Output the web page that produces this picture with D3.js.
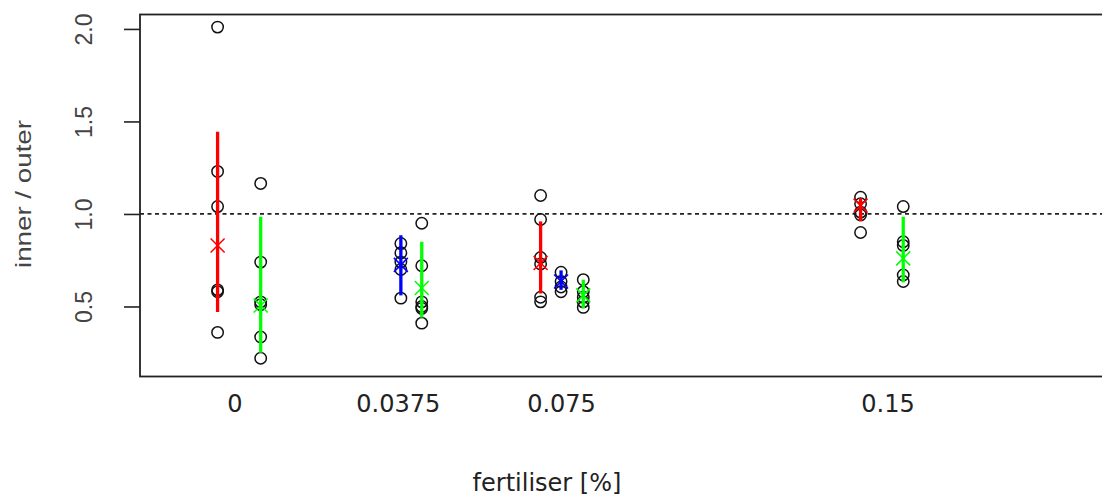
<!DOCTYPE html>
<html>
<head>
<meta charset="utf-8">
<script src="https://cdn.jsdelivr.net/npm/d3@7"></script>
<style>
  html, body { margin: 0; padding: 0; background: #fff; }
  svg { display: block; }
</style>
</head>
<body>
<div id="chart"></div>
<script>
// fertiliser levels and their tick labels
const fertLevels = [0, 0.0375, 0.075, 0.15];
const fertLabels = ["0", "0.0375", "0.075", "0.15"];
const yTicks = [0.5, 1.0, 1.5, 2.0];

// red series (x in fertiliser units, slightly offset per level)
const redX = [-0.004, 0.0702, 0.1437];
const redPoints = [
  [2.01, 1.23, 1.04, 0.59, 0.58, 0.36],
  [1.10, 0.97, 0.765, 0.73, 0.55, 0.525],
  [1.09, 1.055, 1.01, 0.995, 0.90]
];
const redMid = [0.83, 0.735, 1.045];
const redLo = [0.47, 0.57, 0.96];
const redHi = [1.445, 0.96, 1.085];

// blue series
const blueX = [0.0381, 0.0749];
const bluePoints = [
  [0.84, 0.79, 0.74, 0.70, 0.545],
  [0.685, 0.635, 0.605, 0.58]
];
const blueMid = [0.725, 0.635];
const blueLo = [0.56, 0.59];
const blueHi = [0.885, 0.695];

// green series
const greenX = [0.0059, 0.0429, 0.0800, 0.1535];
const greenPoints = [
  [1.165, 0.74, 0.525, 0.51, 0.335, 0.22],
  [0.95, 0.72, 0.525, 0.50, 0.49, 0.41],
  [0.645, 0.58, 0.55, 0.525, 0.495],
  [1.04, 0.85, 0.83, 0.67, 0.635]
];
const greenMid = [0.505, 0.60, 0.56, 0.76];
const greenLo = [0.25, 0.44, 0.49, 0.63];
const greenHi = [0.985, 0.85, 0.645, 0.985];

const width = 1102;
const height = 499;

// build one flat list of groups for drawing
function build(color, xs, pts, mid, lo, hi) {
  return xs.map((x, i) => ({ color, x, pts: pts[i], mid: mid[i], lo: lo[i], hi: hi[i] }));
}
const series = [].concat(
  build("#ff0000", redX, redPoints, redMid, redLo, redHi),
  build("#0000ff", blueX, bluePoints, blueMid, blueLo, blueHi),
  build("#00ff00", greenX, greenPoints, greenMid, greenLo, greenHi)
);

const svg = d3.select("#chart").append("svg")
  .attr("width", width)
  .attr("height", height);

const plot = { left: 140, top: 14.5, right: 1110, bottom: 376.5 };

const x = d3.scaleLinear().domain([0, 0.15]).range([235, 888]);
const y = d3.scaleLinear().domain([0.1216, 2.078]).range([plot.bottom, plot.top]);

// reference line at 1
svg.append("line")
  .attr("x1", plot.left).attr("x2", plot.right)
  .attr("y1", y(1)).attr("y2", y(1))
  .attr("stroke", "#222")
  .attr("stroke-width", 1.7)
  .attr("stroke-dasharray", "4 3.5");

// y axis
const yAxis = d3.axisLeft(y).tickValues(yTicks).tickSize(16).tickFormat(d3.format(".1f"));
const ya = svg.append("g")
  .attr("transform", `translate(${plot.left},0)`)
  .call(yAxis);
ya.select(".domain").remove();
ya.selectAll(".tick line").attr("stroke", "#222").attr("stroke-width", 1.6);
ya.selectAll(".tick text")
  .attr("x", 0).attr("y", 0).attr("dy", null)
  .attr("transform", "translate(-48,0) rotate(-90)")
  .attr("text-anchor", "middle")
  .attr("font-family", "'Liberation Sans', Arial, sans-serif")
  .attr("font-size", 23)
  .attr("fill", "#444");

// x tick labels only (no axis line)
svg.selectAll("text.xlab")
  .data(fertLevels)
  .enter()
  .append("text")
  .attr("class", "xlab")
  .attr("x", d => x(d))
  .attr("y", 412)
  .attr("text-anchor", "middle")
  .attr("font-family", "'DejaVu Sans', Verdana, sans-serif")
  .attr("font-size", 24)
  .attr("fill", "#222")
  .text((d, i) => fertLabels[i]);

// axis titles
svg.append("text")
  .attr("x", 547)
  .attr("y", 491)
  .attr("text-anchor", "middle")
  .attr("font-family", "'DejaVu Sans', Verdana, sans-serif")
  .attr("font-size", 24)
  .attr("fill", "#222")
  .text("fertiliser [%]");

svg.append("text")
  .attr("transform", "translate(31,194) rotate(-90)")
  .attr("text-anchor", "middle")
  .attr("font-family", "'Liberation Sans', Arial, sans-serif")
  .attr("font-size", 22)
  .attr("textLength", 148)
  .attr("lengthAdjust", "spacingAndGlyphs")
  .attr("fill", "#444")
  .text("inner / outer");

// points
const g = svg.append("g");
series.forEach(s => {
  g.selectAll(null)
    .data(s.pts)
    .enter()
    .append("circle")
    .attr("cx", x(s.x))
    .attr("cy", d => y(d))
    .attr("r", 5.7)
    .attr("fill", "none")
    .attr("stroke", "#111")
    .attr("stroke-width", 1.5);
});

// spread lines
g.selectAll("line.spread")
  .data(series)
  .enter()
  .append("line")
  .attr("class", "spread")
  .attr("x1", d => x(d.x)).attr("x2", d => x(d.x))
  .attr("y1", d => y(d.lo)).attr("y2", d => y(d.hi))
  .attr("stroke", d => d.color)
  .attr("stroke-width", 3.3);

// centre markers (x shape)
const m = 7;
g.selectAll("path.mid")
  .data(series)
  .enter()
  .append("path")
  .attr("class", "mid")
  .attr("d", d => {
    const cx = x(d.x), cy = y(d.mid);
    return `M${cx - m},${cy - m}L${cx + m},${cy + m}M${cx - m},${cy + m}L${cx + m},${cy - m}`;
  })
  .attr("fill", "none")
  .attr("stroke", d => d.color)
  .attr("stroke-width", 1.5);

// plot frame (right edge runs off the picture)
svg.append("rect")
  .attr("x", plot.left)
  .attr("y", plot.top)
  .attr("width", plot.right - plot.left)
  .attr("height", plot.bottom - plot.top)
  .attr("fill", "none")
  .attr("stroke", "#222")
  .attr("stroke-width", 1.8);
</script>
</body>
</html>
